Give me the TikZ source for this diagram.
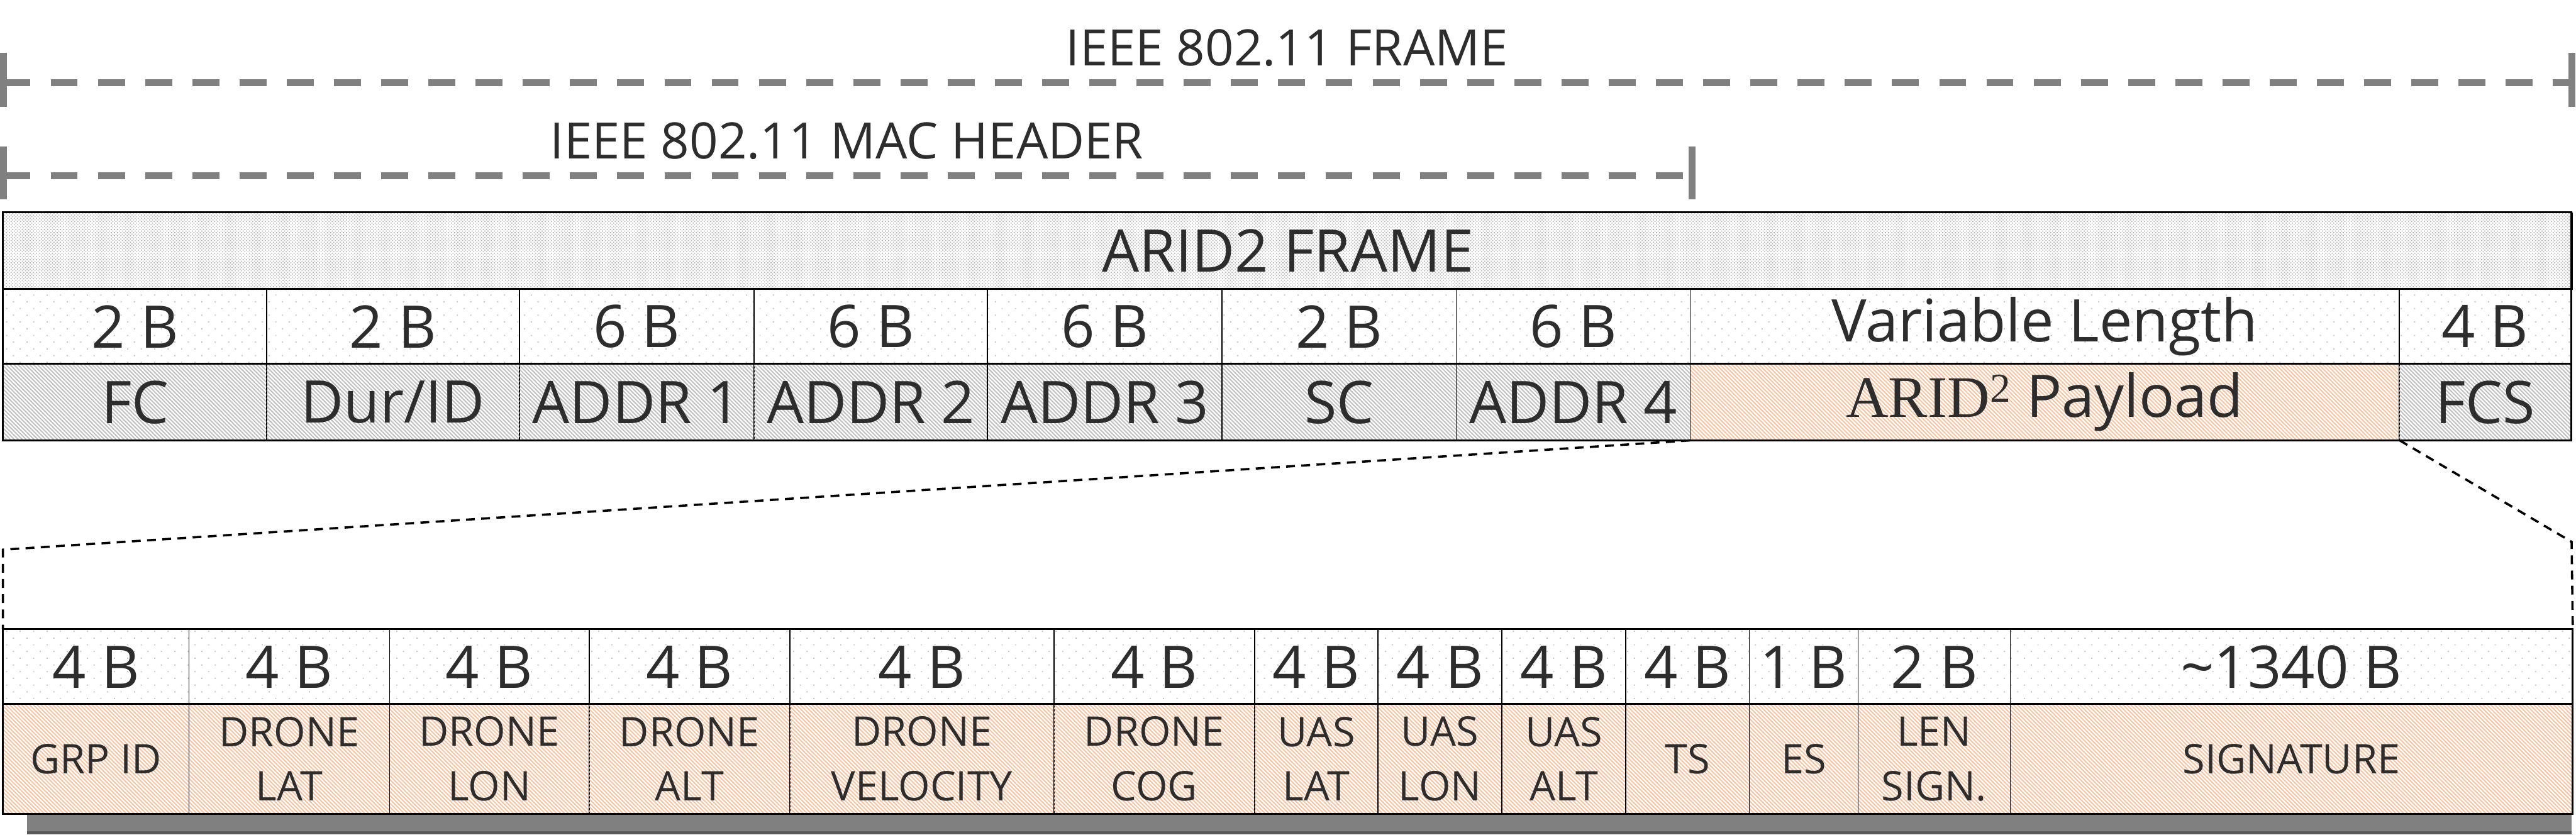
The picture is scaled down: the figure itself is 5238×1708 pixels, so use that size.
\documentclass[tikz,border=0pt]{standalone}
\usepackage{fontspec}
\setsansfont{Open Sans}
\newfontfamily\aridfont{Liberation Serif}
\renewcommand{\familydefault}{\sfdefault}
\usetikzlibrary{patterns.meta}
\definecolor{txtgray}{HTML}{2D2D2D}
\definecolor{peach}{HTML}{F5C2A0}
\definecolor{hatchgray}{HTML}{BEBEBE}
\definecolor{spangray}{HTML}{808080}
\begin{document}
\begin{tikzpicture}[x=0.01cm, y=-0.01cm,
  every node/.style={text=txtgray, inner sep=0pt},
  bigtxt/.style={font=\fontsize{34}{40}\selectfont},
  smalltxt/.style={font=\fontsize{23.6}{31.6}\selectfont, align=center},
  spanlbl/.style={font=\fontsize{29}{34}\selectfont, anchor=base},
  cell/.style={draw=black, line width=0.5pt, anchor=north west},
  framecell/.style={cell, bigtxt, pattern={Dots[angle=45, distance=1.3pt, radius=0.42pt]}, pattern color=gray!60},
  sizecell/.style={cell, bigtxt, pattern={Dots[angle=45, distance=5.5pt, radius=0.5pt]}, pattern color=gray!45},
  hdrlab/.style={cell, bigtxt, pattern={Lines[angle=-45, distance=1.6pt, line width=0.7pt]}, pattern color=hatchgray},
  paylab/.style={cell, bigtxt, pattern={Lines[angle=-45, distance=1.6pt, line width=0.7pt]}, pattern color=peach},
  dronelab/.style={paylab, smalltxt},
  span/.style={draw=spangray, line width=4pt, dash pattern=on 15.6pt off 11.7pt},
  spantick/.style={draw=spangray, line width=4pt},
  zoomline/.style={draw=black, line width=1.3pt, dash pattern=on 5.1pt off 3.7pt},
  outline/.style={draw=black, line width=1.1pt}
]
\useasboundingbox (0,0) rectangle (5238,1708);

% spans above the frame
\coordinate (fl) at (7,168);
\coordinate (fr) at (5230,168);
\coordinate (ml) at (7,358);
\coordinate (mr) at (3440,358);
\draw[span] (fl) -- (fr);
\draw[span] (ml) -- (mr);
\draw[spantick] (fl) ++(0,-60) -- ++(0,109);
\draw[spantick] (fr) ++(0,-60) -- ++(0,109);
\draw[spantick] (ml) ++(0,-60) -- ++(0,108);
\draw[spantick] (mr) ++(0,-60) -- ++(0,108);
\node[spanlbl] (framelbl) at (2617,134) {IEEE 802.11 FRAME};
\node[spanlbl] (maclbl) at (1722,323) {IEEE 802.11 MAC HEADER};

% ARID2 frame
\node[framecell, minimum width=52.21cm, minimum height=1.54cm] (frame) at (6,432) {ARID2 FRAME};
\foreach \xa/\xb/\sz/\lab/\sty [count=\i] in {
  6/541/2 B/FC/hdrlab,
  541/1055/2 B/{Dur/ID}/hdrlab,
  1055/1532/6 B/ADDR 1/hdrlab,
  1532/2007/6 B/ADDR 2/hdrlab,
  2007/2484/6 B/ADDR 3/hdrlab,
  2484/2960/2 B/SC/hdrlab,
  2960/3436/6 B/ADDR 4/hdrlab,
  3436/4877/Variable Length/{{\aridfont ARID\textsuperscript{2}} Payload}/paylab,
  4877/5227/4 B/FCS/hdrlab} {
  \pgfmathsetmacro{\w}{(\xb-\xa)/100}
  \node[sizecell, minimum width=\w cm, minimum height=1.54cm] (hs\i) at (\xa,586) {\sz};
  \node[\sty, minimum width=\w cm, minimum height=1.54cm] (hl\i) at (\xa,740) {\lab};
}
\draw[outline] (frame.north west) rectangle (hl9.south east);
\draw[outline] (frame.south west) -- (frame.south east);
\draw[outline] (hl1.north west) -- (hl9.north east);

% payload detail
\fill[spangray] (55,1653) rectangle (5229,1697);
\fill[black!65] (55,1691) rectangle (5229,1697);
\foreach \xa/\xb/\sz/\lab [count=\i] in {
  6/383/4 B/GRP ID,
  383/791/4 B/DRONE\\LAT,
  791/1197/4 B/DRONE\\LON,
  1197/1605/4 B/DRONE\\ALT,
  1605/2142/4 B/DRONE\\VELOCITY,
  2142/2550/4 B/DRONE\\COG,
  2550/2801/4 B/UAS\\LAT,
  2801/3053/4 B/UAS\\LON,
  3053/3305/4 B/UAS\\ALT,
  3305/3556/4 B/TS,
  3556/3777/1 B/ES,
  3777/4087/2 B/LEN\\SIGN.,
  4087/5229/\textasciitilde1340 B/SIGNATURE} {
  \pgfmathsetmacro{\w}{(\xb-\xa)/100}
  \node[sizecell, minimum width=\w cm, minimum height=1.53cm] (bs\i) at (\xa,1279) {\sz};
  \node[dronelab, minimum width=\w cm, minimum height=2.21cm] (bl\i) at (\xa,1432) {\lab};
}
\draw[outline] (bs1.north west) rectangle (bl13.south east);
\draw[outline] (bl1.north west) -- (bl13.north east);

% zoom lines
\coordinate (zl) at (6,1118);
\coordinate (zr) at (5229,1102);
\draw[zoomline] (hl8.south west) -- (zl) -- (bs1.north west);
\draw[zoomline] (hl8.south east) -- (zr) -- (bs13.north east);
\end{tikzpicture}
\end{document}
